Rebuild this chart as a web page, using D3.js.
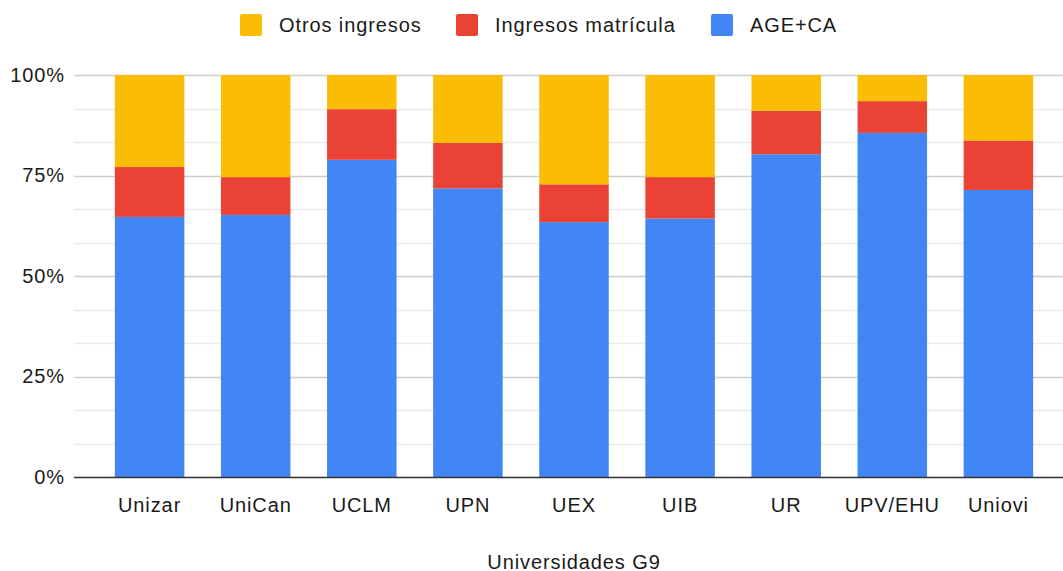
<!DOCTYPE html>
<html><head><meta charset="utf-8">
<script src="https://cdn.jsdelivr.net/npm/d3@7"></script>
<style>body{margin:0;background:#fff}svg{display:block}text{font-family:"Liberation Sans",Arial,sans-serif}</style>
</head><body><svg id="c" width="1063" height="571"></svg>
<script>
const categories = ["Unizar","UniCan","UCLM","UPN","UEX","UIB","UR","UPV/EHU","Uniovi"];
const ageca = [64.7, 65.2, 78.9, 71.8, 63.4, 64.3, 80.3, 85.6, 71.4];
const matricula = [12.4, 9.4, 12.6, 11.3, 9.4, 10.3, 10.8, 7.9, 12.3];
const otros = [22.9, 25.4, 8.5, 16.9, 27.2, 25.4, 8.9, 6.5, 16.3];
const seriesNames = ["AGE+CA","Ingresos matrícula","Otros ingresos"];
const legendOrder = ["Otros ingresos","Ingresos matrícula","AGE+CA"];
const colors = {"AGE+CA":"#4285F4","Ingresos matrícula":"#EA4335","Otros ingresos":"#FBBC04"};
const yTicks = [0, 25, 50, 75, 100];
const xTitle = "Universidades G9";

(function(){
const svg = d3.select("#c");
const FS = 20, LS = "0.9px", TC = "#1a1a1a";
const pL = 74, pR = 1074, pT = 75, pB = 477;
const rows = categories.map((c,i)=>({cat:c,"AGE+CA":ageca[i],"Ingresos matrícula":matricula[i],"Otros ingresos":otros[i]}));
rows.forEach(r=>{const t=r["AGE+CA"]+r["Ingresos matrícula"]+r["Otros ingresos"];seriesNames.forEach(s=>r[s]=r[s]/t);});

const x = d3.scaleBand().domain(categories).range([pL,pR]).paddingInner(0.345).paddingOuter(0.385);
const y = d3.scaleLinear().domain([0,1]).range([pB,pT]);

const minor = d3.range(0,1.0001,1/12).filter((v,i)=>i%3!==0);
svg.append("g").selectAll("line").data(minor).join("line")
  .attr("x1",pL).attr("x2",1063).attr("y1",d=>Math.round(y(d))+0.5).attr("y2",d=>Math.round(y(d))+0.5)
  .attr("stroke","#ebebeb").attr("stroke-width",1.5);
svg.append("g").selectAll("line").data(yTicks.filter(d=>d>0)).join("line")
  .attr("x1",pL).attr("x2",1063).attr("y1",d=>Math.round(y(d/100))+0.5).attr("y2",d=>Math.round(y(d/100))+0.5)
  .attr("stroke","#cccccc").attr("stroke-width",1.5);

const stack = d3.stack().keys(seriesNames)(rows);
svg.append("g").selectAll("g").data(stack).join("g").attr("fill",d=>colors[d.key])
  .selectAll("rect").data(d=>d).join("rect")
  .attr("x",d=>x(d.data.cat)).attr("width",x.bandwidth())
  .attr("y",d=>y(d[1])).attr("height",d=>y(d[0])-y(d[1]));

const ya = svg.append("g").attr("transform",`translate(${pL},0)`)
  .call(d3.axisLeft(y).tickValues(yTicks.map(d=>d/100)).tickFormat(d=>Math.round(d*100)+"%").tickSize(0).tickPadding(9));
ya.select(".domain").remove();
ya.selectAll("text").attr("font-size",FS).attr("fill",TC).style("letter-spacing",LS).style("font-family","Liberation Sans, Arial, sans-serif");

svg.append("line").attr("x1",pL).attr("x2",1063).attr("y1",pB+0.5).attr("y2",pB+0.5).attr("stroke","#333").attr("stroke-width",1.5);

const xa = svg.append("g").attr("transform",`translate(0,${pB})`)
  .call(d3.axisBottom(x).tickSize(0).tickPadding(20.5));
xa.select(".domain").remove();
xa.selectAll("text").attr("font-size",FS).attr("fill",TC).style("letter-spacing",LS).style("font-family","Liberation Sans, Arial, sans-serif");

svg.append("text").attr("x",574).attr("y",568.5).attr("text-anchor","middle").attr("font-size",FS).attr("fill",TC).style("letter-spacing",LS).text(xTitle);

const legX = [240, 456, 711];
const lg = svg.append("g");
legendOrder.forEach((name,i)=>{
  lg.append("rect").attr("x",legX[i]).attr("y",14).attr("width",22).attr("height",22).attr("rx",2).attr("fill",colors[name]);
  lg.append("text").attr("x",legX[i]+39).attr("y",31.7).attr("font-size",FS).attr("fill",TC).style("letter-spacing",LS).text(name);
});
})();
</script></body></html>
